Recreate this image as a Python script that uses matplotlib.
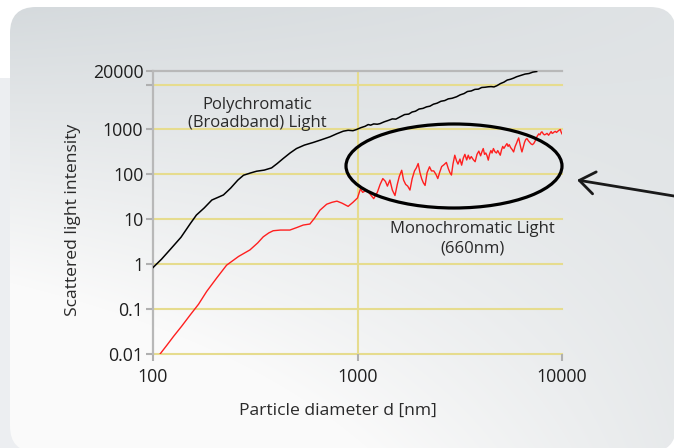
import numpy as np
import matplotlib
matplotlib.use('Agg')
from matplotlib import pyplot as plt
from matplotlib.patches import Ellipse, FancyBboxPatch, Rectangle

plt.rcParams['font.family'] = ['Open Sans', 'DejaVu Sans']

# polychromatic (broadband) light curve
poly_d = [100, 110, 122, 137, 152, 163, 178, 194, 208, 221, 240, 260, 277, 300, 321, 350, 380, 405,
          433, 468, 503, 550, 606, 665, 733, 790, 852, 900, 950, 990, 1040, 1090, 1128, 1160, 1200,
          1250, 1288, 1350, 1420, 1480, 1540, 1612, 1700, 1780, 1850, 1920, 2000, 2090, 2177, 2260,
          2350, 2450, 2560, 2670, 2780, 2900, 3053, 3180, 3320, 3450, 3600, 3750, 3900, 4050, 4200,
          4350, 4500, 4650, 4800, 5000, 5200, 5400, 5600, 5800, 6000, 6300, 6600, 6900, 7200, 7520]
poly_i = [0.85, 1.3, 2.2, 4.0, 8, 12.5, 18, 27, 31, 35, 50, 75, 96, 108, 118, 125, 140, 175,
          226, 300, 377, 450, 513, 590, 687, 800, 917, 960, 940, 1000, 1100, 1180, 1288, 1250, 1330,
          1310, 1350, 1480, 1600, 1720, 1700, 1900, 2150, 2200, 2450, 2550, 2850, 2950, 3190, 3300,
          3650, 3850, 4250, 4400, 4800, 4950, 5350, 5900, 6300, 7000, 7200, 7800, 7900, 8600, 8700,
          8900, 9000, 8850, 9400, 10500, 11300, 12600, 13100, 13900, 14900, 16000, 17100, 17600, 18900, 19500]

# monochromatic light (660nm) curve
mono_d = [108, 117, 126, 138, 152, 167, 183, 205, 229, 262, 298, 325, 346, 368, 387, 420, 467, 505,
          543, 585, 615, 655, 707, 750, 793, 840, 900, 950, 1000, 1034, 1060, 1110, 1160, 1200, 1250,
          1290, 1330, 1370, 1400, 1440, 1480, 1525, 1565, 1600, 1645, 1680, 1720, 1760, 1805, 1850,
          1900, 1940, 1980, 2020, 2060, 2100, 2140, 2190, 2250, 2300, 2360, 2420, 2470, 2520, 2580,
          2650, 2720, 2780, 2830, 2880, 2930, 2990, 3050, 3100, 3170, 3230, 3290, 3350, 3420, 3480,
          3540, 3600, 3680, 3760, 3840, 3920, 4000, 4060, 4120, 4180, 4240, 4300, 4360, 4420, 4490,
          4550, 4620, 4700, 4780, 4850, 4920, 4990, 5060, 5130, 5200, 5300, 5380, 5450, 5520, 5600,
          5700, 5800, 5900, 6000, 6070, 6140, 6220, 6300, 6370, 6460, 6560, 6650, 6740, 6850, 6950,
          7050, 7160, 7270, 7400, 7550, 7700, 7800, 7900, 7980, 8100, 8200, 8320, 8450, 8600, 8720,
          8850, 8950, 9050, 9150, 9270, 9400, 9550, 9700, 9810, 9900, 10000]
mono_i = [0.01, 0.016, 0.025, 0.042, 0.075, 0.13, 0.25, 0.5, 0.96, 1.5, 2.1, 3.0, 4.1, 5.0, 5.6, 5.8, 5.8, 6.6,
          7.5, 7.9, 10.5, 16, 21.8, 24, 25.5, 23, 19.5, 24, 30, 48, 40, 45, 35, 29, 40,
          60, 81, 70, 55, 75, 45, 34, 60, 90, 124, 75, 60, 55, 45, 80,
          120, 140, 175, 110, 80, 65, 57, 110, 148, 120, 120, 100, 81, 110, 150,
          165, 185, 135, 110, 97, 170, 268, 200, 170, 220, 161, 230, 280, 210, 268,
          220, 250, 215, 192, 280, 330, 260, 320, 377, 280, 300, 260, 208, 280, 340,
          300, 377, 320, 300, 340, 300, 268, 350, 420, 380, 440, 485, 420, 460, 400,
          360, 317, 420, 500, 580, 650, 500, 380, 317, 400, 520, 600, 628, 560, 520,
          480, 460, 485, 560, 700, 800, 760, 860, 888, 800, 760, 780, 820, 745, 820,
          900, 820, 840, 880, 910, 860, 920, 970, 1000, 880, 800]

x_ticks = [100, 1000, 10000]
x_labels = ['100', '1000', '10000']
y_ticks = [0.01, 0.1, 1, 10, 100, 1000, 10000, 20000]
y_labels = ['0.01', '0.1', '1', '10', '100', '1000', '', '20000']
grid_y = [0.01, 0.1, 1, 10, 100, 1000, 10000]

W, H = 674, 448
fig = plt.figure(figsize=(W / 100, H / 100), dpi=100, facecolor='white')

# background panel
bg = fig.add_axes([0, 0, 1, 1], zorder=0)
bg.set_xlim(0, W)
bg.set_ylim(H, 0)
bg.axis('off')
bg.add_patch(Rectangle((0, 78), 30, H, color='#eceef1', lw=0))
yy, xx = np.mgrid[0:H, 0:W]
yn, xn = yy / H, xx / W
t = np.clip(1.6 * yn - 1.1 * xn * yn + 0.3 * xn * (1 - yn), 0, 1)
dark = np.array([212, 217, 220]) / 255.0
light = np.array([250, 250, 250]) / 255.0
img = dark[None, None, :] * (1 - t[..., None]) + light[None, None, :] * t[..., None]
panel = FancyBboxPatch((10, 7), 666, 445, boxstyle='round,pad=0,rounding_size=26',
                       facecolor='none', edgecolor='none')
bg.add_patch(panel)
im = bg.imshow(img, extent=(0, W, H, 0), aspect='auto', zorder=1)
im.set_clip_path(panel)

# chart
ax = fig.add_axes([153 / W, 1 - 354.3 / H, (562 - 153) / W, (354.3 - 71) / H], zorder=2)
ax.set_facecolor('none')
ax.set_xscale('log')
ax.set_yscale('log')
ax.set_xlim(100, 10000)
ax.set_ylim(0.01, 20000)

grid_col = '#e6dc8e'
for g in grid_y:
    ax.axhline(g, color=grid_col, lw=1.5, zorder=1, clip_on=False)
ax.axvline(1000, color=grid_col, lw=1.5, zorder=1)

ax.plot(poly_d, poly_i, color='black', lw=1.1, zorder=3)
ax.plot(mono_d, mono_i, color='#ff1f1f', lw=1.0, zorder=3)

ax.set_xticks(x_ticks)
ax.set_xticklabels(x_labels)
ax.set_yticks(y_ticks)
ax.set_yticklabels(y_labels)
ax.minorticks_off()
for s in ['bottom', 'right']:
    ax.spines[s].set_visible(False)
for s in ['left', 'top']:
    ax.spines[s].set_color('#b8b8b8')
    ax.spines[s].set_linewidth(1.6)
ax.tick_params(axis='both', colors='#b0b0b0', length=5, width=1.5, labelsize=12.8, labelcolor='#1e1e1e')
ax.tick_params(axis='x', pad=5)
ax.tick_params(axis='y', pad=2)

ax.text(322, 2190, 'Polychromatic\n(Broadband) Light', ha='center', va='center',
        fontsize=12, color='#2a2a2a', linespacing=1.15, zorder=4)
ax.text(3660, 3.74, 'Monochromatic Light\n(660nm)', ha='center', va='center',
        fontsize=12, color='#2a2a2a', linespacing=1.3, zorder=4)

fig.text(338 / W, 1 - 411 / H, 'Particle diameter d [nm]', ha='center', va='center',
         fontsize=12.6, color='#2a2a2a')
fig.text(73 / W, 1 - 220 / H, 'Scattered light intensity', ha='center', va='center',
         rotation=90, fontsize=12.6, color='#2a2a2a')

# highlight ellipse and arrow
fig.add_artist(Ellipse((454 / W, 1 - 166 / H), 216 / W, 84 / H, transform=fig.transFigure,
                       fill=False, edgecolor='black', lw=2.3, zorder=5))
ax.annotate('', xy=(577, H - 180), xycoords='figure pixels', xytext=(680, H - 197),
            textcoords='figure pixels', annotation_clip=False,
            arrowprops=dict(arrowstyle='->,head_length=0.55,head_width=0.4', lw=2,
                            color='#1a1a1a', mutation_scale=20, shrinkA=0, shrinkB=0))

fig.savefig('out.png', dpi=100, facecolor='white')
